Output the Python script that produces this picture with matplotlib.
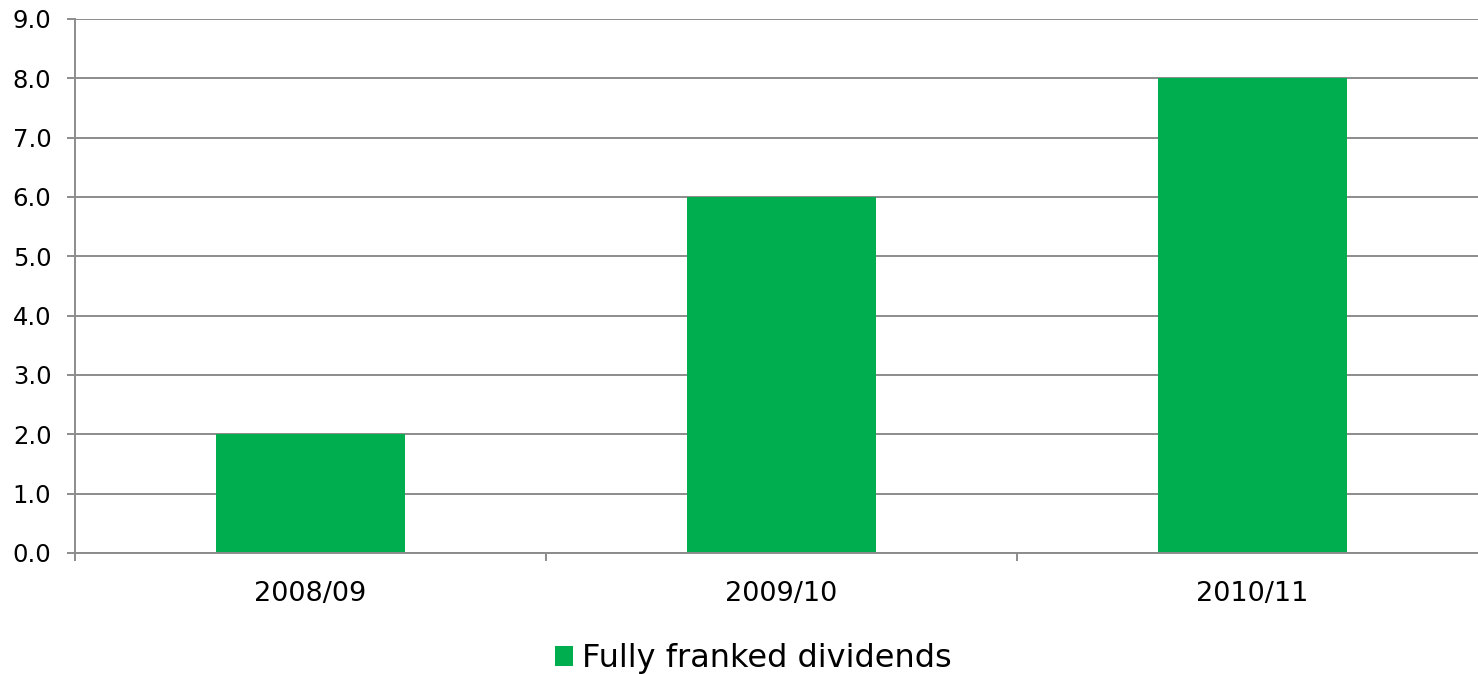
import matplotlib
matplotlib.use("Agg")
import matplotlib.pyplot as plt
import numpy as np

# data
categories = ["2008/09", "2009/10", "2010/11"]
dividends = [2.0, 6.0, 8.0]
series_label = "Fully franked dividends"
y_ticks = np.arange(0, 10, 1)

W, H = 1478, 674
green = "#00AE4F"
grid_gray = "#8C8C8C"

plt.rcParams["font.family"] = ["Verdana", "DejaVu Sans"]

fig = plt.figure(figsize=(W / 100, H / 100), dpi=100)
# plot area: left edge at x=75px, top at y=19px, bottom at y=553px
ax = fig.add_axes([75 / W, 1 - 553 / H, (W - 75) / W, (553 - 19) / H])

x = np.arange(len(categories))
ax.bar(x, dividends, width=0.4, color=green, zorder=3, label=series_label)

ax.set_yticks(y_ticks)
ax.set_yticklabels([f"{v:.1f}" for v in y_ticks])
ax.set_xticks(x)
ax.set_xticklabels(categories)
ax.set_xticks(np.arange(-0.5, len(categories), 1), minor=True)

ax.set_ylim(0, 9)
# category width is 471 px; the right end is cut by the image edge
ax.set_xlim(-0.5, -0.5 + (W - 75) / 471)

ax.tick_params(axis="x", which="major", length=0, pad=20, labelsize=19.5)
ax.tick_params(axis="x", which="minor", length=6, width=1.4, color=grid_gray,
               direction="out")
ax.tick_params(axis="y", length=6, width=1.4, color=grid_gray, pad=11, labelsize=17.5)

ax.yaxis.grid(True, color=grid_gray, linewidth=1.4, zorder=0)
ax.set_axisbelow(True)
for side in ("top", "right"):
    ax.spines[side].set_visible(False)
for side in ("left", "bottom"):
    ax.spines[side].set_color(grid_gray)
    ax.spines[side].set_linewidth(1.4)
    ax.spines[side].set_zorder(4)

fig.legend(loc="center", bbox_to_anchor=(753 / W, 1 - 659 / H), frameon=False,
           fontsize=23, handlelength=0.56, handleheight=0.56, handletextpad=0.28)

fig.savefig("out.png", dpi=100)
